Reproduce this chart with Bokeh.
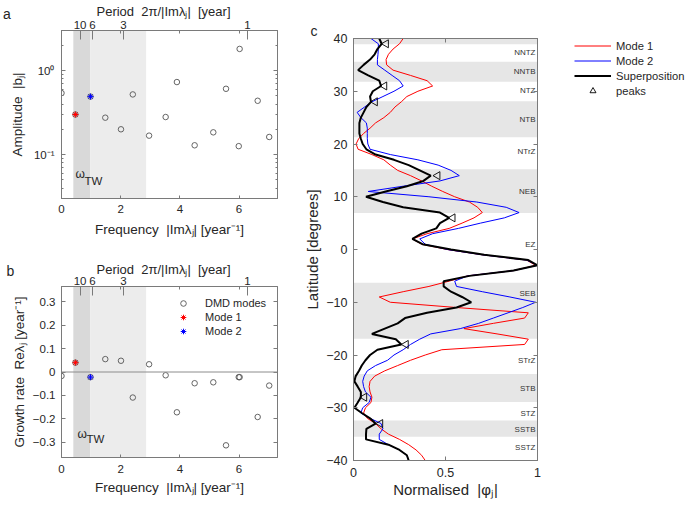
import numpy as np
from bokeh.plotting import figure
from bokeh.models import (Label, Legend, LinearAxis, LogAxis, FixedTicker, Span,
                          BoxAnnotation, Range1d, CustomJSTickFormatter, GridBox)
from bokeh.layouts import row, column
from bokeh.core.properties import value
from bokeh.embed import file_html
from bokeh.resources import INLINE

FONT = "Liberation Sans"
AX = "#7a7a7a"
TXT = "#262626"
GRAY = "#555555"
SP2 = " \u00a0"  # visible double space

# ---------------- data: DMD spectrum (panels a, b) ----------------
freq = [0.0, 0.47, 0.98, 1.48, 2.01, 2.41, 2.96, 3.52, 3.90, 4.50, 5.13, 5.56, 5.99, 6.02, 6.63, 7.02]
amp = [0.54, 0.30, 0.49, 0.275, 0.20, 0.52, 0.168, 0.28, 0.73, 0.129, 0.184, 0.607, 0.126, 1.81, 0.437, 0.162]
growth = [-0.017, 0.040, -0.022, 0.055, 0.048, -0.109, 0.033, -0.014, -0.172, -0.048, -0.044, -0.313,
          -0.022, -0.022, -0.192, -0.058]
mode1_index = 1
mode2_index = 2
period_ticks = [10, 6, 3, 1]
freq_ticks = [0, 2, 4, 6]
growth_ticks = [-0.3, -0.2, -0.1, 0, 0.1, 0.2, 0.3]
tw_band = [0.40, 0.97]
light_band = [0.97, 2.86]

# ---------------- data: latitude profiles (panel c) ----------------
lat = list(range(40, -41, -1))
mode1 = [0.27, 0.25, 0.215, 0.19, 0.177, 0.18, 0.215, 0.31, 0.40, 0.43,
         0.35, 0.29, 0.26, 0.225, 0.20, 0.165, 0.12, 0.09, 0.055, 0.028,
         0.014, 0.025, 0.10, 0.165, 0.20, 0.24, 0.31, 0.37, 0.425, 0.485,
         0.55, 0.63, 0.675, 0.70, 0.655, 0.59, 0.52, 0.40, 0.32, 0.37,
         0.51, 0.70, 0.94, 0.99, 0.87, 0.62, 0.52, 0.41, 0.27, 0.14,
         0.20, 0.56, 0.95, 0.93, 0.76, 0.60, 0.78, 0.95, 0.93, 0.48,
         0.39, 0.31, 0.24, 0.17, 0.115, 0.09, 0.085, 0.09, 0.10, 0.095,
         0.065, 0.055, 0.075, 0.12, 0.15, 0.19, 0.25, 0.30, 0.34, 0.37,
         0.39]
mode2 = [0.095, 0.135, 0.135, 0.133, 0.13, 0.13, 0.17, 0.21, 0.25, 0.27,
         0.22, 0.16, 0.10, 0.06, 0.02, 0.04, 0.07, 0.075, 0.075, 0.075,
         0.078, 0.09, 0.20, 0.35, 0.46, 0.53, 0.575, 0.47, 0.27, 0.08,
         0.41, 0.67, 0.83, 0.90, 0.82, 0.69, 0.57, 0.43, 0.36, 0.39,
         0.51, 0.70, 0.94, 1.0, 0.87, 0.62, 0.55, 0.56, 0.70, 0.85,
         0.99, 0.92, 0.84, 0.76, 0.68, 0.58, 0.42, 0.36, 0.31, 0.27,
         0.22, 0.185, 0.12, 0.075, 0.058, 0.05, 0.055, 0.065, 0.095, 0.085,
         0.05, 0.04, 0.09, 0.15, 0.16, 0.14, 0.14, 0.19, 0.25, 0.29,
         0.30]
superpos = [0.14, 0.153, 0.13, 0.115, 0.09, 0.055, 0.025, 0.08, 0.14, 0.15,
            0.105, 0.09, 0.095, 0.07, 0.055, 0.04, 0.032, 0.032, 0.032, 0.04,
            0.05, 0.07, 0.12, 0.22, 0.30, 0.36, 0.42, 0.38, 0.29, 0.175,
            0.068, 0.16, 0.27, 0.47, 0.52, 0.47, 0.45, 0.37, 0.32, 0.375,
            0.53, 0.71, 0.95, 1.0, 0.87, 0.63, 0.49, 0.49, 0.53, 0.59,
            0.64, 0.56, 0.40, 0.28, 0.24, 0.17, 0.10, 0.23, 0.26, 0.13,
            0.09, 0.065, 0.045, 0.03, 0.012, 0.005, 0.023, 0.04, 0.04, 0.023,
            0.005, 0.045, 0.09, 0.12, 0.07, 0.068, 0.068, 0.19, 0.25, 0.29,
            0.30]
peak_lat = [39, 31, 28, 14, 6, -18, -28, -33]
peak_val = [0.177, 0.168, 0.117, 0.457, 0.539, 0.285, 0.059, 0.146]
zone_names = ["NNTZ", "NNTB", "NTZ", "NTB", "NTrZ", "NEB", "EZ", "SEB", "STrZ", "STB", "STZ", "SSTB", "SSTZ"]
zone_lat = [37.3, 33.7, 30.1, 24.6, 18.6, 11.0, 0.9, -8.4, -21.0, -26.4, -31.0, -34.1, -37.5]
lat_ticks = [-40, -30, -20, -10, 0, 10, 20, 30, 40]
phi_ticks = [0, 0.5, 1]
belt_top = [40, 35.6, 28.1, 15.2, -6.3, -23.6, -32.4]
belt_bottom = [38.9, 31.8, 21.3, 6.9, -16.9, -28.9, -35.5]

PERIOD_LABEL = "Period" + SP2 + "2\u03c0/|Im\u03bb\u2c7c|" + SP2 + "[year]"
FREQ_LABEL = "Frequency" + SP2 + "|Im\u03bb\u2c7c| [year\u207b\u00b9]"

BLANK = CustomJSTickFormatter(code="return '';")
MINUS_FMT = CustomJSTickFormatter(code="""
if (Math.abs(tick) < 1e-9) return '0';
const s = String(Math.round(Math.abs(tick) * 1000) / 1000);
return (tick < 0 ? '\u2212' : '') + s;""")


def base_fig(W, H, xr, yr, mbl, mbr, mbt, mbb, **kw):
    p = figure(width=W, height=H, x_range=xr, y_range=yr, output_backend="svg",
               toolbar_location=None, min_border_left=mbl, min_border_right=mbr,
               min_border_top=mbt, min_border_bottom=mbb, **kw)
    p.xgrid.visible = False
    p.ygrid.visible = False
    p.outline_line_color = AX
    return p


def style_axis(ax, tick_in=4, minor_in=0, labels=True, fs="11.5px", standoff=5,
               label_fs="13.5px", label_standoff=5):
    ax.axis_line_color = AX
    ax.major_tick_line_color = AX
    ax.minor_tick_line_color = AX
    ax.major_tick_in = tick_in
    ax.major_tick_out = 0
    ax.minor_tick_in = minor_in
    ax.minor_tick_out = 0
    ax.major_label_text_font = FONT
    ax.major_label_text_font_size = fs
    ax.major_label_text_color = TXT
    ax.major_label_standoff = standoff if labels else 0
    if not labels:
        ax.formatter = BLANK
    ax.axis_label_text_font = FONT
    ax.axis_label_text_font_style = "normal"
    ax.axis_label_text_font_size = label_fs
    ax.axis_label_text_color = TXT
    ax.axis_label_standoff = label_standoff


def frame_label(p, fl, fb, text, px, py, fs="11.5px", align="left", baseline="middle"):
    # Label placed in pixels relative to the frame's bottom-left corner
    p.add_layout(Label(x=px - fl, y=fb - py, x_units="screen", y_units="screen",
                       text=text, text_font=FONT, text_font_size=fs, text_color=TXT,
                       text_align=align, text_baseline=baseline))


period_freqs = [2 * np.pi / t for t in period_ticks]


def period_fmt():
    return CustomJSTickFormatter(code="return String(Math.round(2*Math.PI/tick));")


# ======================= panel a =======================
# frame: x 60..277, y 30..198
pa = base_fig(298, 240, Range1d(0, 7.3), Range1d(0.03, 3), 60, 21, 30, 42, y_axis_type="log")
FLa, FBa = 60, 198
pa.add_layout(BoxAnnotation(left=tw_band[0], right=tw_band[1], fill_color="#d9d9d9",
                            fill_alpha=1, line_color=None, level="underlay"))
pa.add_layout(BoxAnnotation(left=light_band[0], right=light_band[1], fill_color="#ececec",
                            fill_alpha=1, line_color=None, level="underlay"))
pa.scatter(freq, amp, marker="circle", size=5.5, fill_color=None, line_color=GRAY, line_width=0.9)
pa.scatter([freq[mode1_index]], [amp[mode1_index]], marker="asterisk", size=6, line_color="red")
pa.scatter([freq[mode2_index]], [amp[mode2_index]], marker="asterisk", size=6, line_color="blue")

log_minor = [0.03, 0.04, 0.05, 0.06, 0.07, 0.08, 0.09, 0.2, 0.3, 0.4, 0.5, 0.6, 0.7, 0.8, 0.9, 2, 3]
xa = pa.xaxis[0]
xa.ticker = FixedTicker(ticks=freq_ticks)
xa.axis_label = FREQ_LABEL
style_axis(xa, tick_in=3, standoff=6, label_standoff=6)
ya = pa.yaxis[0]
ya.ticker = FixedTicker(ticks=[0.1, 1], minor_ticks=log_minor)
ya.formatter = CustomJSTickFormatter(code="return tick >= 1 ? '10\u2070' : '10\u207b\u00b9';")
ya.axis_label = "Amplitude" + SP2 + "|b\u2c7c|"
style_axis(ya, tick_in=4, minor_in=2, standoff=7, label_standoff=6)
ra = LogAxis(ticker=FixedTicker(ticks=[0.1, 1], minor_ticks=log_minor))
style_axis(ra, tick_in=4, minor_in=2, labels=False)
pa.add_layout(ra, "right")
ta = LinearAxis(ticker=FixedTicker(ticks=period_freqs, minor_ticks=freq_ticks), formatter=period_fmt())
style_axis(ta, tick_in=9, minor_in=3, standoff=2)
pa.add_layout(ta, "above")
frame_label(pa, FLa, FBa, "\u03c9", 74, 173, fs="12px")
frame_label(pa, FLa, FBa, "TW", 83, 180, fs="11.5px")

# ======================= panel b =======================
# frame: x 61..277, y 286..457
pb = base_fig(298, 272, Range1d(0, 7.3), Range1d(-0.365, 0.365), 61, 21, 46, 55)
FLb, FBb = 61, 457
pb.add_layout(BoxAnnotation(left=tw_band[0], right=tw_band[1], fill_color="#d9d9d9",
                            fill_alpha=1, line_color=None, level="underlay"))
pb.add_layout(BoxAnnotation(left=light_band[0], right=light_band[1], fill_color="#ececec",
                            fill_alpha=1, line_color=None, level="underlay"))
pb.add_layout(Span(location=0, dimension="width", line_color="#8c8c8c", line_width=1))
r_dmd = pb.scatter(freq, growth, marker="circle", size=5.5, fill_color=None, line_color=GRAY,
                   line_width=0.9)
r_m1 = pb.scatter([freq[mode1_index]], [growth[mode1_index]], marker="asterisk", size=6,
                  line_color="red")
r_m2 = pb.scatter([freq[mode2_index]], [growth[mode2_index]], marker="asterisk", size=6,
                  line_color="blue")
xb = pb.xaxis[0]
xb.ticker = FixedTicker(ticks=freq_ticks)
xb.axis_label = FREQ_LABEL
style_axis(xb, tick_in=3, standoff=7, label_standoff=4)
yb = pb.yaxis[0]
yb.ticker = FixedTicker(ticks=growth_ticks)
yb.formatter = MINUS_FMT
yb.axis_label = "Growth rate" + SP2 + "Re\u03bb\u2c7c [year\u207b\u00b9]"
style_axis(yb, tick_in=4, standoff=6, label_standoff=3)
rb = LinearAxis(ticker=FixedTicker(ticks=growth_ticks))
style_axis(rb, tick_in=4, labels=False)
pb.add_layout(rb, "right")
tb = LinearAxis(ticker=FixedTicker(ticks=period_freqs, minor_ticks=freq_ticks), formatter=period_fmt())
style_axis(tb, tick_in=9, minor_in=3, standoff=2)
pb.add_layout(tb, "above")
leg_b = Legend(items=[("DMD modes", [r_dmd]), ("Mode 1", [r_m1]), ("Mode 2", [r_m2])],
               location=(112, 119), padding=5, spacing=0, glyph_width=20, glyph_height=14,
               label_height=14, label_standoff=12, border_line_color=None,
               background_fill_alpha=0, label_text_font=FONT, label_text_font_size="11px",
               label_text_color=TXT)
pb.add_layout(leg_b)
frame_label(pb, FLb, FBb, "\u03c9", 77, 433, fs="12px")
frame_label(pb, FLb, FBb, "TW", 86, 438, fs="11.5px")

# ======================= panel c =======================
# frame: x 353..537, y 38..460
pc = base_fig(388, 512, Range1d(0, 1), Range1d(-40, 40), 55, 149, 38, 52)
pc.quad(left=0, right=1, top=belt_top, bottom=belt_bottom, fill_color="#e6e6e6", line_color=None)
pc.text(x=[pc.x_range.end] * len(zone_names), y=zone_lat, text=zone_names, x_offset=-2,
        text_align="right", text_baseline="middle", text_font=value(FONT),
        text_font_size="8px", text_color="#333333")
r1 = pc.line(mode1, lat, line_color="red", line_width=1)
r2 = pc.line(mode2, lat, line_color="blue", line_width=1)
r3 = pc.line(superpos, lat, line_color="black", line_width=2)
r4 = pc.scatter(peak_val, peak_lat, marker="triangle", angle=np.pi / 2, size=8,
                fill_color=None, line_color="black", line_width=0.9)
xc = pc.xaxis[0]
xc.ticker = FixedTicker(ticks=phi_ticks)
xc.axis_label = "Normalised" + SP2 + "|\u03c6\u2c7c|"
style_axis(xc, tick_in=4, fs="12.5px", standoff=7, label_fs="15px", label_standoff=1)
yc = pc.yaxis[0]
yc.ticker = FixedTicker(ticks=lat_ticks)
yc.formatter = MINUS_FMT
yc.axis_label = "Latitude [degrees]"
style_axis(yc, tick_in=4, fs="12.5px", standoff=6, label_fs="15px", label_standoff=2)
rc = LinearAxis(ticker=FixedTicker(ticks=lat_ticks))
style_axis(rc, tick_in=4, labels=False)
pc.add_layout(rc, "right")
tc = LinearAxis(ticker=FixedTicker(ticks=phi_ticks))
style_axis(tc, tick_in=4, labels=False)
pc.add_layout(tc, "above")

# ============ transparent overlay (page-pixel coordinates) for outer texts ============
ov = figure(width=689, height=512, x_range=Range1d(0, 689), y_range=Range1d(512, 0),
            output_backend="svg", toolbar_location=None, min_border=0,
            x_axis_location=None, y_axis_location=None,
            background_fill_color=None, border_fill_color=None, outline_line_color=None)
ov.xgrid.visible = False
ov.ygrid.visible = False
# a range that maps the legend proxies' data off the canvas
ov.extra_x_ranges = {"off": Range1d(10, 11)}


def page_label(text, px, py, fs="13px", align="left"):
    ov.add_layout(Label(x=px, y=py, text=text, text_font=FONT, text_font_size=fs,
                        text_color=TXT, text_align=align, text_baseline="middle"))


page_label("a", 6.5, 13, fs="14px", align="center")
page_label("b", 10, 270.5, fs="14px", align="center")
page_label("c", 313.5, 30, fs="14px", align="center")
page_label(PERIOD_LABEL, 163, 10.5, align="center")
page_label(PERIOD_LABEL, 163, 268.5, align="center")

# legend of panel c: proxies draw the same series, mapped off-canvas
k1 = ov.line(mode1, lat, line_color="red", line_width=1, x_range_name="off")
k2 = ov.line(mode2, lat, line_color="blue", line_width=1, x_range_name="off")
k3 = ov.line(superpos, lat, line_color="black", line_width=2, x_range_name="off")
k4 = ov.scatter(peak_val, peak_lat, marker="triangle", size=6, fill_color=None,
                line_color="black", line_width=0.9, x_range_name="off")
leg_c = Legend(items=[("Mode 1", [k1]), ("Mode 2", [k2]), ("Superposition", [k3]), ("peaks", [k4])],
               location=(574, 414), padding=5, spacing=0, glyph_width=37, glyph_height=15,
               label_height=15, label_standoff=5, border_line_color=None,
               background_fill_alpha=0, label_text_font=FONT, label_text_font_size="11.2px",
               label_text_color=TXT)
ov.add_layout(leg_c)

main = row(column(pa, pb), pc)
layout = GridBox(children=[(main, 0, 0), (ov, 0, 0)])
open("out.html", "w").write(file_html(layout, INLINE))
